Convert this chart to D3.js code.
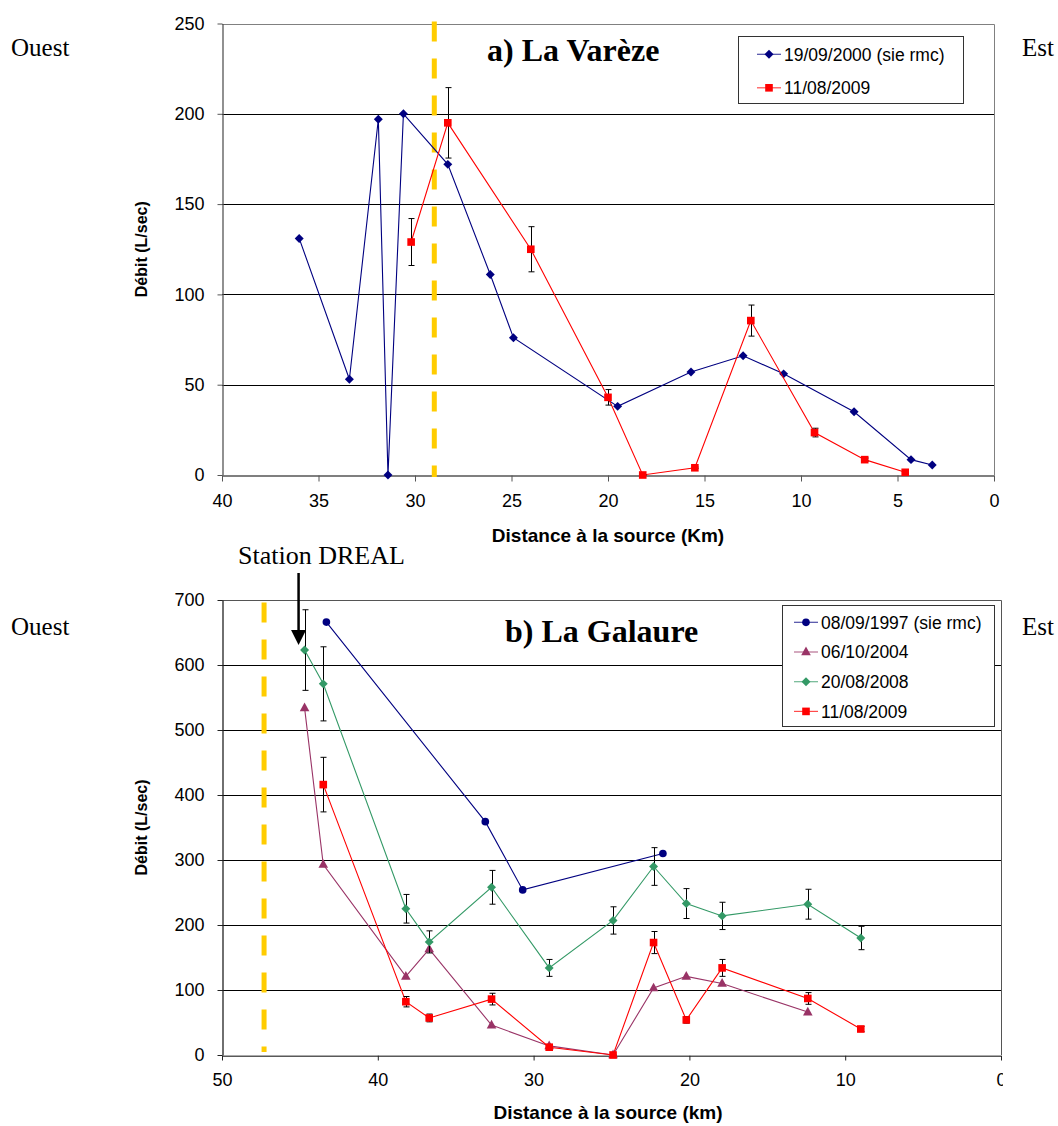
<html>
<head>
<script src="https://d3js.org/d3.v7.min.js"></script>
<style>
  body { margin: 0; background: #fff; }
  text { font-family: "Liberation Sans", Arial, sans-serif; }
  .serif { font-family: "Liberation Serif", "Times New Roman", serif; }
</style>
</head>
<body>
<div id="chart"></div>
<script>

// a) La Varèze -- distance to source (km) / discharge (L/sec)
const varezeDist2000 = [36.0, 33.4, 31.9, 31.4, 30.6, 28.3, 26.1, 24.9, 19.5, 15.7, 13.0, 10.9, 7.25, 4.3, 3.2];
const varezeQ2000    = [131, 53, 197, 0, 200, 172, 111, 76, 38, 57, 66, 56, 35, 8.5, 5.5];
const varezeDist2009 = [30.2, 28.3, 24.0, 20.0, 18.2, 15.5, 12.6, 9.3, 6.7, 4.6];
const varezeQ2009    = [129, 195, 125, 43, 0, 4, 85.5, 23.5, 8.5, 1.5];
const varezeErr2009  = [13, 19.5, 12.5, 4.3, 0, 0.4, 8.6, 2.4, 0.9, 0.2];
const varezeTicksX = [40, 35, 30, 25, 20, 15, 10, 5, 0];
const varezeTicksY = [0, 50, 100, 150, 200, 250];
const varezeDreal = 29.0;

// b) La Galaure
const galaureDist1997 = [43.3, 33.1, 30.7, 21.7];
const galaureQ1997    = [666, 359, 254, 310];
const galaureDist2004 = [44.7, 43.5, 38.2, 36.7, 32.7, 29.0, 24.9, 22.3, 20.2, 17.9, 12.4];
const galaureQ2004    = [534, 293, 121, 163, 46, 14, 0, 103, 121, 110, 66];
const galaureDist2008 = [44.7, 43.5, 38.2, 36.7, 32.7, 29.0, 24.9, 22.3, 20.2, 17.9, 12.4, 9.0];
const galaureQ2008    = [623, 571, 225, 174, 258, 134, 207, 290, 233, 214, 232, 180];
const galaureErr2008  = [62, 57, 22, 17, 26, 13, 21, 29, 23, 21, 23, 18];
const galaureDist2009 = [43.5, 38.2, 36.7, 32.7, 29.0, 24.9, 22.3, 20.2, 17.9, 12.4, 9.0];
const galaureQ2009    = [416, 82, 57, 86, 12, 0, 173, 54, 134, 87, 40];
const galaureErr2009  = [42, 8, 6, 9, 1, 0, 17, 5, 13, 9, 4];
const galaureTicksX = [50, 40, 30, 20, 10, 0];
const galaureTicksY = [0, 100, 200, 300, 400, 500, 600, 700];
const galaureDreal = 47.3;
const galaureStation = 44.7;

const svg = d3.select("#chart")
  .append("svg")
  .attr("width", 1058)
  .attr("height", 1126);

// marker shapes
const markers = {
  diamond: d3.symbol().type(d3.symbolSquare).size(40)(),
  square: d3.symbol().type(d3.symbolSquare).size(58)(),
  circle: d3.symbol().type(d3.symbolCircle).size(46)(),
  triangle: "M0,-5.4L4.8,3.3L-4.8,3.3Z"
};

function zip(xs, ys, es) {
  return xs.map((d, i) => ({ x: d, y: ys[i], e: es ? es[i] : null }));
}

function drawPanel(p) {
  const x = d3.scaleLinear().domain(p.xDomain).range([p.left, p.right]);
  const y = d3.scaleLinear().domain(p.yDomain).range([p.bottom, p.top]);
  const g = svg.append("g");

  // gridlines
  g.selectAll(".grid")
    .data(p.yTicks.filter(v => v > p.yDomain[0] && v < p.yDomain[1]))
    .enter().append("line")
    .attr("x1", p.left).attr("x2", p.right)
    .attr("y1", d => Math.round(y(d)) + 0.5).attr("y2", d => Math.round(y(d)) + 0.5)
    .attr("stroke", "#000").attr("stroke-width", 1);

  // plot frame (top / right)
  g.append("path")
    .attr("d", `M${p.left},${Math.round(p.top) + 0.5}H${p.right + 0.5}V${p.bottom}`)
    .attr("fill", "none").attr("stroke", p.frameTop).attr("stroke-width", 1);

  // axes
  const yAxis = g.append("g")
    .attr("transform", `translate(${p.left + 0.5},0)`)
    .call(d3.axisLeft(y).tickValues(p.yTicks).tickSize(5).tickSizeOuter(0).tickPadding(13));
  const xAxis = g.append("g")
    .attr("transform", `translate(0,${Math.round(p.bottom) + 0.5})`)
    .call(d3.axisBottom(x).tickValues(p.xTicks).tickSize(p.xTickSize).tickSizeOuter(0).tickPadding(p.xTickPad));
  [yAxis, xAxis].forEach(a => {
    a.select(".domain").attr("stroke", p.axisColor).attr("stroke-width", 1.3);
    a.selectAll(".tick line").attr("stroke", p.axisColor);
    a.selectAll(".tick text").attr("fill", "#000").style("font-size", "18px")
      .style("font-family", "'Liberation Sans', Arial, sans-serif");
  });
  if (p.clipX) {
    svg.append("clipPath").attr("id", "clipx")
      .append("rect").attr("x", 0).attr("y", 0).attr("width", p.clipX).attr("height", 1126);
    xAxis.attr("clip-path", "url(#clipx)");
  }

  // dashed DREAL line
  g.append("line")
    .attr("x1", x(p.dreal)).attr("x2", x(p.dreal))
    .attr("y1", y(p.yDomain[1]) + p.dashStart).attr("y2", y(0) + p.dashEnd)
    .attr("stroke", "#FFCC00").attr("stroke-width", 5)
    .attr("stroke-dasharray", "20,17");

  // series
  p.series.forEach(s => {
    const data = zip(s.xs, s.ys, s.errs);
    g.append("path")
      .datum(data)
      .attr("fill", "none")
      .attr("stroke", s.color)
      .attr("stroke-width", 1.1)
      .attr("d", d3.line().x(d => x(d.x)).y(d => y(d.y)));

    if (s.errs) {
      const eb = g.append("g").attr("stroke", "#000").attr("stroke-width", 1);
      data.forEach(d => {
        const cx = Math.round(x(d.x)) + 0.5;
        const y1 = y(d.y + d.e), y2 = y(d.y - d.e);
        eb.append("path").attr("d", `M${cx},${y1}V${y2}M${cx - 3},${y1}H${cx + 3}M${cx - 3},${y2}H${cx + 3}`);
      });
    }

    g.selectAll(null)
      .data(data)
      .enter().append("path")
      .attr("d", markers[s.marker])
      .attr("transform", d => `translate(${x(d.x)},${y(d.y)})` + (s.marker === "diamond" ? " rotate(45)" : ""))
      .attr("fill", s.color);
  });

  // legend
  const lg = g.append("g");
  lg.append("rect")
    .attr("x", p.legend.x + 0.5).attr("y", p.legend.y + 0.5)
    .attr("width", p.legend.w).attr("height", p.legend.h)
    .attr("fill", "#fff").attr("stroke", "#333").attr("stroke-width", 1);
  p.series.forEach((s, i) => {
    const cy = p.legend.row0 + i * p.legend.step;
    const lx = p.legend.x + p.legend.pad;
    lg.append("line")
      .attr("x1", lx).attr("x2", lx + 24).attr("y1", cy).attr("y2", cy)
      .attr("stroke", s.color).attr("stroke-width", 1.2).attr("opacity", 0.7);
    lg.append("path")
      .attr("d", markers[s.marker])
      .attr("transform", `translate(${lx + 12},${cy})` + (s.marker === "diamond" ? " rotate(45)" : ""))
      .attr("fill", s.color);
    lg.append("text")
      .attr("x", lx + 27).attr("y", cy + 6.3)
      .style("font-size", "17.5px")
      .text(s.name);
  });

  // titles
  g.append("text")
    .attr("class", "serif")
    .attr("x", p.titleX).attr("y", p.titleY)
    .style("font-size", "32px").style("font-weight", "bold")
    .text(p.title);

  g.append("text")
    .attr("transform", `translate(147,${(p.top + p.bottom) / 2}) rotate(-90)`)
    .attr("text-anchor", "middle")
    .style("font-size", "16px").style("font-weight", "bold")
    .text("Débit (L/sec)");

  g.append("text")
    .attr("x", 608).attr("y", p.xTitleY)
    .attr("text-anchor", "middle")
    .style("font-size", "19px").style("font-weight", "bold")
    .text(p.xTitle);

  g.append("text").attr("class", "serif")
    .attr("x", 11).attr("y", p.sideY)
    .style("font-size", "25px").text("Ouest");
  g.append("text").attr("class", "serif")
    .attr("x", 1022).attr("y", p.sideY)
    .style("font-size", "25px").text("Est");

  return { x, y };
}

drawPanel({
  left: 222, right: 994, top: 23.5, bottom: 475,
  xDomain: [40, 0], yDomain: [0, 250],
  xTicks: varezeTicksX, yTicks: varezeTicksY,
  xTickSize: 6, xTickPad: 13,
  axisColor: "#555", frameTop: "#808080",
  dreal: varezeDreal, dashStart: -2, dashEnd: 2,
  series: [
    { name: "19/09/2000 (sie rmc)", xs: varezeDist2000, ys: varezeQ2000, color: "#000080", marker: "diamond" },
    { name: "11/08/2009", xs: varezeDist2009, ys: varezeQ2009, errs: varezeErr2009, color: "#FF0000", marker: "square" }
  ],
  legend: { x: 738, y: 36, w: 225, h: 67, row0: 54.3, step: 33.5, pad: 19 },
  title: "a) La Varèze", titleX: 487, titleY: 61,
  xTitle: "Distance à la source (Km)", xTitleY: 542,
  sideY: 56
});

const gal = drawPanel({
  left: 222, right: 1001, top: 600, bottom: 1055,
  xDomain: [50, 0], yDomain: [0, 700],
  xTicks: galaureTicksX, yTicks: galaureTicksY,
  xTickSize: 5, xTickPad: 13, clipX: 1003,
  axisColor: "#222", frameTop: "#555",
  dreal: galaureDreal, dashStart: 2.5, dashEnd: -3,
  series: [
    { name: "08/09/1997 (sie rmc)", xs: galaureDist1997, ys: galaureQ1997, color: "#000080", marker: "circle" },
    { name: "06/10/2004", xs: galaureDist2004, ys: galaureQ2004, color: "#993366", marker: "triangle" },
    { name: "20/08/2008", xs: galaureDist2008, ys: galaureQ2008, errs: galaureErr2008, color: "#339966", marker: "diamond" },
    { name: "11/08/2009", xs: galaureDist2009, ys: galaureQ2009, errs: galaureErr2009, color: "#FF0000", marker: "square" }
  ],
  legend: { x: 782, y: 605, w: 212, h: 121, row0: 622.3, step: 29.7, pad: 12 },
  title: "b) La Galaure", titleX: 505, titleY: 642,
  xTitle: "Distance à la source (km)", xTitleY: 1119,
  sideY: 635
});

// Station DREAL arrow
const ax = gal.x(galaureStation) - 6;
svg.append("text").attr("class", "serif")
  .attr("x", 238).attr("y", 564)
  .style("font-size", "26px")
  .text("Station DREAL");
svg.append("line")
  .attr("x1", ax).attr("x2", ax).attr("y1", 573).attr("y2", 633)
  .attr("stroke", "#000").attr("stroke-width", 2.5);
svg.append("path")
  .attr("d", `M${ax - 7.5},630L${ax + 7.5},630L${ax},645Z`)
  .attr("fill", "#000");

</script>
</body>
</html>
